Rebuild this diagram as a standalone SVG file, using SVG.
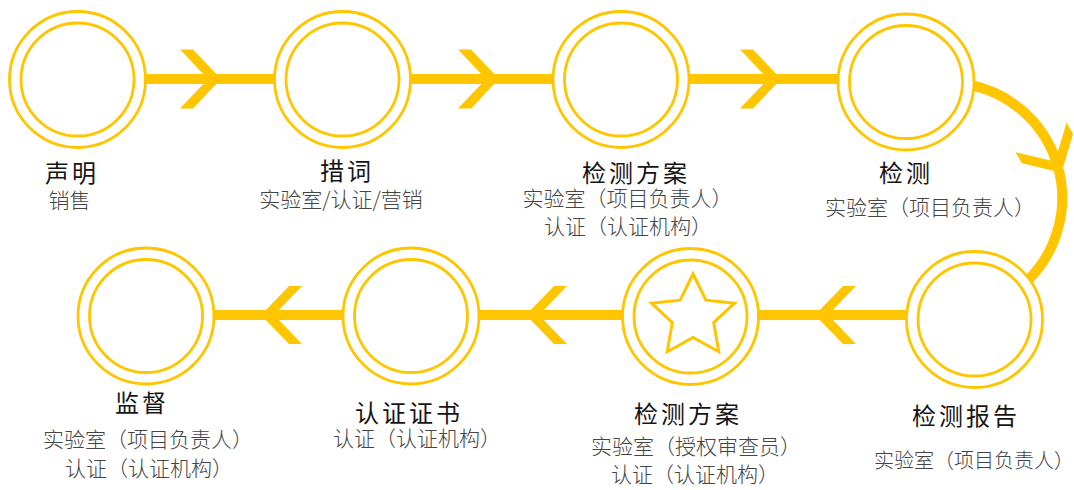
<svg xmlns="http://www.w3.org/2000/svg" width="1074" height="490" viewBox="0 0 1074 490">
<defs>
<style>
.bar{stroke:#FFC600;stroke-width:10;fill:none}
.chev{fill:#FFC600}
.ring{fill:#fff;stroke:#FFC600;stroke-width:2.8}
.inner{fill:none;stroke:#FFC600;stroke-width:2.8}
.t{font-family:"Noto Sans CJK SC","Noto Sans",sans-serif;font-size:24px;fill:#151515;text-anchor:middle;letter-spacing:3px;font-weight:400}
.s{font-family:"Noto Sans CJK SC","Noto Sans",sans-serif;font-size:21px;fill:#444;text-anchor:middle;font-weight:300}
</style>
<polygon id="chevR" points="-40,-29.5 -27,-29.5 1,0 -27,29.5 -40,29.5 -12,0"/>
<polygon id="chevL" points="40,-29 27,-29 -1,0 27,29 40,29 12,0"/>
</defs>
<g id="connectors">
<line class="bar" x1="140" y1="79" x2="280" y2="79"/>
<line class="bar" x1="405" y1="79" x2="560" y2="79"/>
<line class="bar" x1="684" y1="79" x2="845" y2="79"/>
<path class="bar" d="M970.7,85 A115.5,115.5 0 0 1 1026.9,281.1"/>
<line class="bar" x1="210" y1="315" x2="350" y2="315"/>
<line class="bar" x1="475" y1="315" x2="628" y2="315"/>
<line class="bar" x1="754" y1="315" x2="912" y2="315"/>
<use href="#chevR" class="chev" transform="translate(220,79)"/>
<use href="#chevR" class="chev" transform="translate(498,79)"/>
<use href="#chevR" class="chev" transform="translate(780,79)"/>
<use href="#chevR" class="chev" transform="translate(1061,172) rotate(60)"/>
<use href="#chevL" class="chev" transform="translate(816,315)"/>
<use href="#chevL" class="chev" transform="translate(527,315)"/>
<use href="#chevL" class="chev" transform="translate(262,315)"/>
</g>
<g id="n1">
<circle class="ring" cx="77.5" cy="79.5" r="68"/><circle class="inner" cx="77.5" cy="79.5" r="56.5"/>
<text class="t" x="72" y="182">声明</text>
<text class="s" x="69.5" y="208">销售</text>
</g>
<g id="n2">
<circle class="ring" cx="342.5" cy="79.5" r="68"/><circle class="inner" cx="342.5" cy="79.5" r="56.5"/>
<text class="t" x="347" y="180">措词</text>
<text class="s" x="341" y="207">实验室/认证/营销</text>
</g>
<g id="n3">
<circle class="ring" cx="621" cy="79.5" r="68"/><circle class="inner" cx="621" cy="79.5" r="56.5"/>
<text class="t" x="636" y="182">检测方案</text>
<text class="s" x="627.5" y="206">实验室（项目负责人）</text>
<text class="s" x="628" y="234">认证（认证机构）</text>
</g>
<g id="n4">
<circle class="ring" cx="906" cy="82" r="68"/><circle class="inner" cx="906" cy="82" r="56.5"/>
<text class="t" x="906" y="182">检测</text>
<text class="s" x="930" y="215">实验室（项目负责人）</text>
</g>
<g id="n5">
<circle class="ring" cx="974.5" cy="319.5" r="68"/><circle class="inner" cx="974.5" cy="319.5" r="56.5"/>
<text class="t" x="966" y="425">检测报告</text>
<text class="s" x="974" y="468" style="font-size:20px">实验室（项目负责人）</text>
</g>
<g id="n6">
<circle class="ring" cx="690.5" cy="316.5" r="68"/><circle class="inner" cx="690.5" cy="316.5" r="56.5"/>
<polygon points="693,274 705.9,300.2 734.5,303.2 713.7,322.6 718.8,351.7 693,337.5 667.2,351.7 672.3,322.6 651.5,303.2 680.1,300.2" fill="none" stroke="#FFC600" stroke-width="3" stroke-linejoin="miter"/>
<text class="t" x="688" y="423">检测方案</text>
<text class="s" x="696" y="454">实验室（授权审查员）</text>
<text class="s" x="695" y="482">认证（认证机构）</text>
</g>
<g id="n7">
<circle class="ring" cx="411" cy="316" r="68"/><circle class="inner" cx="411" cy="316" r="56.5"/>
<text class="t" x="409" y="422">认证证书</text>
<text class="s" x="417" y="446">认证（认证机构）</text>
</g>
<g id="n8">
<circle class="ring" cx="146" cy="316" r="68"/><circle class="inner" cx="146" cy="316" r="56.5"/>
<text class="t" x="142" y="412">监督</text>
<text class="s" x="148" y="447">实验室（项目负责人）</text>
<text class="s" x="149" y="476">认证（认证机构）</text>
</g>
</svg>
